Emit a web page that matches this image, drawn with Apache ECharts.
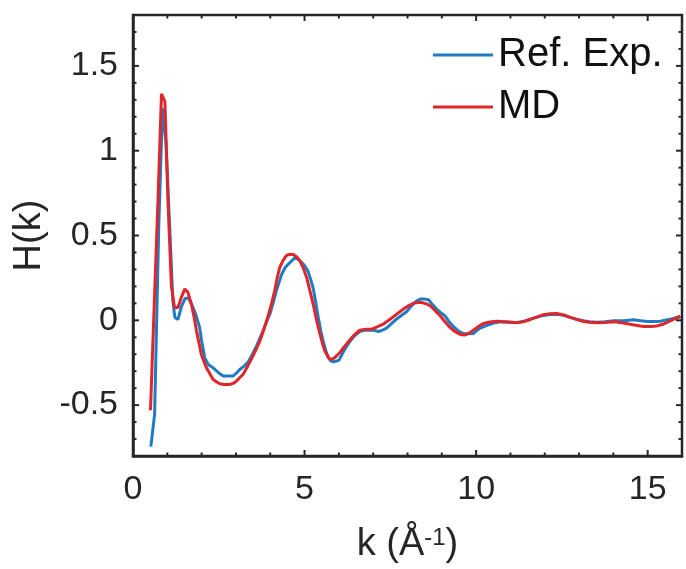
<!DOCTYPE html>
<html>
<head>
<meta charset="utf-8">
<script src="https://cdn.jsdelivr.net/npm/echarts@6/dist/echarts.min.js"></script>
<style>
html,body{margin:0;padding:0;background:#fff;}
#chart{width:686px;height:569px;}
</style>
</head>
<body>
<div id="chart"></div>
<script>
var kRef = [0.52,0.63,0.75,0.86,0.96,1.07,1.16,1.22,1.31,1.41,1.52,1.62,1.72,1.82,1.94,2.0,2.09,2.19,2.3,2.39,2.5,2.63,2.78,2.92,3.02,3.11,3.24,3.36,3.48,3.6,3.7,3.79,3.89,3.99,4.08,4.18,4.33,4.43,4.52,4.62,4.71,4.81,4.91,5.01,5.1,5.18,5.25,5.33,5.4,5.47,5.54,5.62,5.69,5.77,5.84,5.93,6.0,6.12,6.22,6.32,6.42,6.51,6.61,6.76,6.9,7.0,7.15,7.25,7.39,7.5,7.68,7.78,7.98,8.07,8.17,8.27,8.37,8.5,8.61,8.72,8.85,8.97,9.09,9.2,9.34,9.5,9.63,9.78,9.92,10.02,10.12,10.25,10.41,10.55,10.7,10.9,11.19,11.4,11.58,11.75,11.96,12.15,12.35,12.55,12.74,12.95,13.13,13.3,13.52,13.75,14.01,14.3,14.59,14.8,14.98,15.2,15.37,15.5,15.66,15.8,15.95];
var hRef = [-0.745,-0.555,0.55,1.25,1.05,0.55,0.12,0.017,0.005,0.08,0.13,0.13,0.09,0.04,-0.04,-0.12,-0.22,-0.26,-0.275,-0.29,-0.31,-0.328,-0.328,-0.328,-0.31,-0.29,-0.27,-0.245,-0.2,-0.151,-0.105,-0.062,-0.01,0.036,0.1,0.175,0.27,0.31,0.33,0.35,0.368,0.36,0.342,0.32,0.29,0.24,0.19,0.1,0.017,-0.06,-0.121,-0.18,-0.22,-0.24,-0.244,-0.24,-0.236,-0.19,-0.155,-0.125,-0.1,-0.082,-0.066,-0.058,-0.058,-0.058,-0.066,-0.06,-0.046,-0.025,0.007,0.022,0.052,0.075,0.096,0.115,0.125,0.125,0.121,0.095,0.066,0.045,0.027,-0.005,-0.038,-0.065,-0.078,-0.08,-0.078,-0.06,-0.046,-0.035,-0.023,-0.014,-0.009,-0.01,-0.013,-0.005,0.007,0.017,0.029,0.034,0.036,0.03,0.017,0.005,-0.003,-0.008,-0.011,-0.008,-0.003,-0.002,0.003,-0.003,-0.007,-0.007,-0.005,0.0,0.007,0.014,0.021];

var kMD = [0.51,0.62,0.73,0.83,0.93,1.02,1.12,1.21,1.31,1.41,1.51,1.6,1.7,1.78,1.85,1.92,1.99,2.07,2.14,2.24,2.33,2.43,2.53,2.65,2.77,2.87,2.96,3.08,3.21,3.33,3.45,3.58,3.7,3.82,3.94,4.04,4.13,4.2,4.28,4.38,4.47,4.57,4.67,4.77,4.86,4.96,5.06,5.15,5.25,5.35,5.45,5.52,5.59,5.67,5.74,5.81,5.88,6.03,6.12,6.22,6.32,6.42,6.51,6.61,6.78,6.95,7.1,7.29,7.45,7.59,7.74,7.88,8.02,8.17,8.3,8.41,8.55,8.66,8.8,8.95,9.1,9.24,9.36,9.48,9.58,9.68,9.8,9.92,10.06,10.21,10.4,10.6,10.9,11.19,11.4,11.58,11.78,11.96,12.15,12.35,12.55,12.74,12.95,13.13,13.3,13.52,13.75,14.01,14.25,14.49,14.7,14.88,15.1,15.27,15.42,15.56,15.75,15.95];
var hMD = [-0.53,0.1,0.72,1.335,1.29,0.7,0.2,0.076,0.076,0.135,0.185,0.165,0.096,0.02,-0.062,-0.13,-0.2,-0.245,-0.28,-0.315,-0.348,-0.362,-0.374,-0.378,-0.378,-0.375,-0.368,-0.345,-0.318,-0.275,-0.229,-0.175,-0.121,-0.05,0.027,0.1,0.175,0.25,0.313,0.355,0.382,0.39,0.388,0.375,0.352,0.31,0.253,0.18,0.096,0.0,-0.082,-0.135,-0.18,-0.21,-0.23,-0.228,-0.22,-0.19,-0.165,-0.141,-0.115,-0.092,-0.075,-0.058,-0.052,-0.052,-0.04,-0.023,0.0,0.021,0.045,0.066,0.085,0.1,0.105,0.105,0.097,0.086,0.058,0.027,-0.01,-0.042,-0.063,-0.078,-0.085,-0.086,-0.075,-0.058,-0.037,-0.019,-0.01,-0.005,-0.01,-0.015,-0.007,0.005,0.02,0.033,0.038,0.04,0.032,0.017,0.004,-0.007,-0.012,-0.015,-0.013,-0.009,-0.014,-0.023,-0.03,-0.036,-0.036,-0.033,-0.025,-0.013,0.005,0.025];

var xTickLabels = [0,5,10,15];
var xMinorTicks = [1,2,3,4,6,7,8,9,11,12,13,14];
var yTickLabels = [-0.5,0,0.5,1,1.5];
var yMinorTicks = [-0.7,-0.6,-0.4,-0.3,-0.2,-0.1,0.1,0.2,0.3,0.4,0.6,0.7,0.8,0.9,1.1,1.2,1.3,1.4,1.6,1.7];
var seriesNames = ['Ref. Exp.','MD'];

var X_MIN = 0, X_MAX = 16, Y_MIN = -0.8, Y_MAX = 1.8;

function zip(a,b){return a.map(function(v,i){return [v,b[i]];});}
function match(list, v){ for (var i=0;i<list.length;i++){ if (Math.abs(list[i]-v)<1e-6) return String(list[i]); } return ''; }

var axisColor = '#262626';
var FONT = 'Liberation Sans, Arial, sans-serif';
var MAJOR_LEN = 6, MINOR_LEN = 3.5;

// tick list for the frame series: [xValue, yValue], with axis kind and length kept alongside
var tickKinds = [];
var tickData = [];
xTickLabels.forEach(function(v){ tickKinds.push(['x', MAJOR_LEN]); tickData.push([v, Y_MIN]); });
xMinorTicks.forEach(function(v){ tickKinds.push(['x', MINOR_LEN]); tickData.push([v, Y_MIN]); });
yTickLabels.forEach(function(v){ tickKinds.push(['y', MAJOR_LEN]); tickData.push([X_MIN, v]); });
yMinorTicks.forEach(function(v){ tickKinds.push(['y', MINOR_LEN]); tickData.push([X_MIN, v]); });

function renderTick(params, api){
  var kind = tickKinds[params.dataIndex];
  var len = kind[1];
  var st = {stroke:axisColor, lineWidth:2};
  if (kind[0] === 'x') {
    var v = api.value(0);
    var b = api.coord([v, Y_MIN]), t = api.coord([v, Y_MAX]);
    return {type:'group', children:[
      {type:'line', shape:{x1:b[0], y1:b[1], x2:b[0], y2:b[1]-len}, style:st},
      {type:'line', shape:{x1:t[0], y1:t[1], x2:t[0], y2:t[1]+len}, style:st}
    ]};
  } else {
    var w = api.value(1);
    var l = api.coord([X_MIN, w]), r = api.coord([X_MAX, w]);
    return {type:'group', children:[
      {type:'line', shape:{x1:l[0], y1:l[1], x2:l[0]+len, y2:l[1]}, style:st},
      {type:'line', shape:{x1:r[0], y1:r[1], x2:r[0]-len, y2:r[1]}, style:st}
    ]};
  }
}
function renderFrame(params, api){
  var p0 = api.coord([X_MIN, Y_MAX]), p1 = api.coord([X_MAX, Y_MIN]);
  return {type:'rect', shape:{x:p0[0], y:p0[1], width:p1[0]-p0[0], height:p1[1]-p0[1]},
          style:{fill:null, stroke:axisColor, lineWidth:2.5}};
}

var chart = echarts.init(document.getElementById('chart'), null, {renderer:'canvas'});
chart.setOption({
  animation:false,
  backgroundColor:'#ffffff',
  grid:{left:133, right:4, top:15, bottom:113, containLabel:false},
  xAxis:{
    type:'value', min:X_MIN, max:X_MAX, interval:5, position:'bottom',
    axisLine:{show:true, onZero:false, lineStyle:{color:axisColor, width:2.5}},
    axisTick:{show:false}, splitLine:{show:false},
    axisLabel:{show:true, color:'#262626', fontSize:34, fontFamily:FONT, margin:17,
      formatter:function(v){ return match(xTickLabels, v); }},
    name:'k (Å{sup|-1})', nameLocation:'middle', nameGap:70,
    nameTextStyle:{fontSize:38, lineHeight:38, fontFamily:FONT, color:'#262626',
      rich:{sup:{fontSize:24, lineHeight:24, fontFamily:FONT, color:'#262626', verticalAlign:'top'}}}
  },
  yAxis:{
    type:'value', min:Y_MIN, max:Y_MAX, interval:0.1, position:'left',
    axisLine:{show:true, onZero:false, lineStyle:{color:axisColor, width:2.5}},
    axisTick:{show:false}, splitLine:{show:false},
    axisLabel:{show:true, color:'#262626', fontSize:34, fontFamily:FONT, margin:15,
      formatter:function(v){ return match(yTickLabels, v); }},
    name:'H(k)', nameLocation:'middle', nameGap:84,
    nameTextStyle:{fontSize:38, fontFamily:FONT, color:'#262626'}
  },
  legend:{
    orient:'vertical', left:433, top:35, padding:0,
    icon:'rect', itemWidth:60, itemHeight:3, itemGap:12,
    textStyle:{fontSize:40, fontFamily:FONT, color:'#111', lineHeight:36},
    data: seriesNames
  },
  series:[
    {name:seriesNames[0], type:'line', data:zip(kRef,hRef), symbol:'none', z:2, lineStyle:{color:'#1f7bc3', width:3}, itemStyle:{color:'#1f7bc3'}},
    {name:seriesNames[1], type:'line', data:zip(kMD,hMD), symbol:'none', z:2, lineStyle:{color:'#e0262b', width:3}, itemStyle:{color:'#e0262b'}},
    {name:'frame', type:'custom', data:[[X_MIN, Y_MIN]], renderItem:renderFrame, clip:false, silent:true, z:5},
    {name:'ticks', type:'custom', data:tickData, renderItem:renderTick, clip:false, silent:true, z:5}
  ]
});
</script>
</body>
</html>
